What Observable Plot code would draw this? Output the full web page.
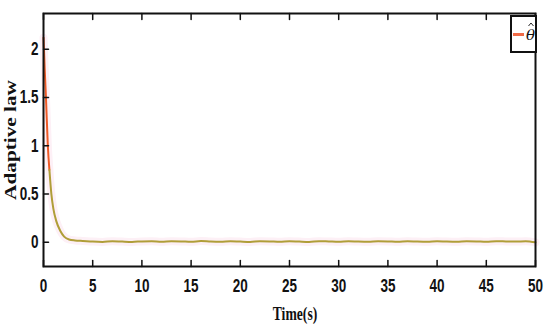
<!DOCTYPE html>
<html>
<head>
<meta charset="utf-8">
<script src="https://cdn.jsdelivr.net/npm/d3@7"></script>
<script src="https://cdn.jsdelivr.net/npm/@observablehq/plot@0.6"></script>
<style>
  html, body { margin: 0; padding: 0; background: #fff; }
  #wrap { position: relative; width: 550px; height: 331px; }
  #legend {
    position: absolute; left: 510px; top: 15px; width: 23px; height: 34px;
    border: 2px solid #111; background: #fff; box-sizing: content-box;
  }
  #legend .sw { position: absolute; left: 1px; top: 16px; width: 11px; height: 3px; background: #f06a46; }
  #legend .lb { position: absolute; left: 14px; top: 11px; font-family: "DejaVu Serif", serif; font-style: italic; font-size: 15px; line-height: 14px; color: #111; }
  #legend svg.hat { position: absolute; left: 0; top: 0; width: 23px; height: 12px; overflow: visible; }
</style>
</head>
<body>
<div id="wrap"><div id="legend"><div class="sw"></div><svg class="hat" viewBox="0 0 23 12"><polyline points="16.5,9 19,6 21.5,9" fill="none" stroke="#111" stroke-width="0.9"/></svg><div class="lb">θ</div></div></div>
<script>
// Time (s)
const time = [0, 0.05, 0.12, 0.25, 0.44, 0.6, 0.8, 1.0, 1.3, 1.7, 2.1, 2.6, 3.2, 4.0,
  5, 6, 7, 8, 9, 10, 11, 12, 13, 14, 15, 16, 17, 18, 19, 20, 21, 22, 23, 24, 25, 26, 27, 28, 29,
  30, 31, 32, 33, 34, 35, 36, 37, 38, 39, 40, 41, 42, 43, 44, 45, 46, 47, 48, 49, 50];
// Adaptive law estimate theta-hat
const thetaHat = [2.12, 2.0, 1.8, 1.5, 1.0, 0.75, 0.5, 0.35, 0.22, 0.12, 0.06, 0.03, 0.02, 0.015,
  0.008, 0.005, 0.012, 0.008, 0.005, 0.01, 0.012, 0.006, 0.012, 0.01, 0.006, 0.013, 0.008, 0.006, 0.012,
  0.008, 0.005, 0.012, 0.01, 0.006, 0.012, 0.008, 0.005, 0.012, 0.009,
  0.006, 0.012, 0.008, 0.006, 0.012, 0.01, 0.006, 0.012, 0.008, 0.006,
  0.012, 0.008, 0.006, 0.012, 0.01, 0.006, 0.012, 0.01, 0.008, 0.012, 0.0];
const xTicks = [0, 5, 10, 15, 20, 25, 30, 35, 40, 45, 50];
const yTicks = [0, 0.5, 1, 1.5, 2];
const yTickLabels = ["0", "0.5", "1", "1.5", "2"];

const data = time.map((t, i) => ({t, v: thetaHat[i]}));
const tickShape = {draw(context, l) { context.moveTo(0, 0); context.lineTo(0, -l); }};

const chart = Plot.plot({
  width: 550,
  height: 331,
  marginLeft: 43,
  marginRight: 15,
  marginTop: 13,
  marginBottom: 65,
  style: {fontFamily: "'Liberation Sans', 'Arial', sans-serif", fontWeight: "bold", fontSize: "18px", color: "#111", background: "#fff"},
  x: {domain: [0, 50]},
  y: {domain: [-0.25, 2.37]},
  marks: [
    Plot.line(data, {x: "t", y: "v", stroke: "#fdf0f6", strokeWidth: 8, curve: "monotone-x"}),
    Plot.line(data, {x: "t", y: "v", z: null, stroke: d => d.v > 0.85 ? "#ee5a26" : "#b09e38", strokeWidth: 2, curve: "monotone-x"}),
    Plot.vector(xTicks, {x: d => d, frameAnchor: "bottom", length: 6, rotate: 0, anchor: "start", shape: tickShape, stroke: "#111", strokeWidth: 1.5}),
    Plot.vector(xTicks, {x: d => d, frameAnchor: "top", length: 6, rotate: 180, anchor: "start", shape: tickShape, stroke: "#111", strokeWidth: 1.5}),
    Plot.vector(yTicks, {y: d => d, frameAnchor: "left", length: 5, rotate: 90, anchor: "start", shape: tickShape, stroke: "#111", strokeWidth: 1.5}),
    Plot.axisX(xTicks, {anchor: "bottom", tickSize: 0, tickPadding: 13, label: null, tickFormat: d => String(d)}),
    Plot.axisY(yTicks, {anchor: "left", tickSize: 0, tickPadding: 5, label: null, tickFormat: d => yTickLabels[yTicks.indexOf(d)]}),
    Plot.frame({stroke: "#111", strokeWidth: 2}),
    Plot.text(["Adaptive law"], {frameAnchor: "left", textAnchor: "middle", dx: -33, rotate: -90, fontFamily: "'Liberation Serif', serif", fontWeight: "bold", fontSize: 17}),
    Plot.text(["Time(s)"], {frameAnchor: "bottom", textAnchor: "middle", dx: 5.5, dy: 47, lineAnchor: "middle", fontFamily: "'Liberation Serif', serif", fontWeight: "bold", fontSize: 19})
  ]
});
document.getElementById("wrap").prepend(chart);

function squeeze(t, sx) {
  const xa = t.getAttribute("x");
  let pre = "";
  if (xa !== null && !isNaN(+xa) && +xa !== 0) { pre = ` translate(${+xa},0)`; t.removeAttribute("x"); }
  const tr = t.getAttribute("transform") || "";
  t.setAttribute("transform", `${tr}${pre} scale(${sx},1)`);
}
chart.querySelectorAll('g[aria-label="x-axis tick label"] text, g[aria-label="y-axis tick label"] text').forEach(t => squeeze(t, 0.75));
chart.querySelectorAll("text").forEach(t => {
  if (t.textContent === "Adaptive law") squeeze(t, 1.25);
  if (t.textContent === "Time(s)") squeeze(t, 0.72);
});
</script>
</body>
</html>
